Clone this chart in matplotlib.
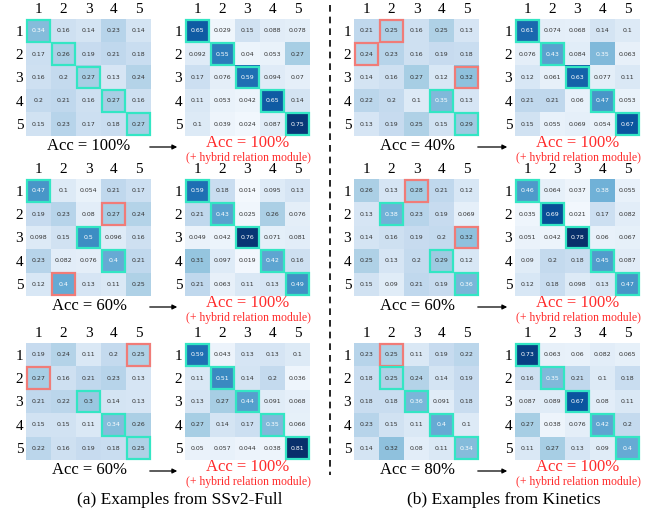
import matplotlib
matplotlib.use("Agg")
import matplotlib.pyplot as plt
import numpy as np
from matplotlib.patches import Rectangle, FancyArrowPatch

plt.rcParams['font.family'] = ['Liberation Serif', 'DejaVu Serif']

labels = ['1', '2', '3', '4', '5']

# SSv2-Full examples (before / after hybrid relation module)
ssv2_a_before = [[0.34, 0.16, 0.14, 0.23, 0.14],
                 [0.17, 0.26, 0.19, 0.21, 0.18],
                 [0.16, 0.2, 0.27, 0.13, 0.24],
                 [0.2, 0.21, 0.16, 0.27, 0.16],
                 [0.15, 0.23, 0.17, 0.18, 0.27]]
ssv2_a_after = [[0.65, 0.029, 0.15, 0.088, 0.078],
                [0.092, 0.55, 0.04, 0.053, 0.27],
                [0.17, 0.076, 0.59, 0.094, 0.07],
                [0.11, 0.053, 0.042, 0.65, 0.14],
                [0.1, 0.039, 0.024, 0.087, 0.75]]
ssv2_b_before = [[0.47, 0.1, 0.054, 0.21, 0.17],
                 [0.19, 0.23, 0.08, 0.27, 0.24],
                 [0.098, 0.15, 0.5, 0.096, 0.16],
                 [0.23, 0.082, 0.076, 0.4, 0.21],
                 [0.12, 0.4, 0.13, 0.11, 0.25]]
ssv2_b_after = [[0.59, 0.18, 0.014, 0.095, 0.13],
                [0.21, 0.43, 0.025, 0.26, 0.076],
                [0.049, 0.042, 0.76, 0.071, 0.081],
                [0.31, 0.097, 0.019, 0.42, 0.16],
                [0.21, 0.063, 0.11, 0.13, 0.49]]
ssv2_c_before = [[0.19, 0.24, 0.11, 0.2, 0.25],
                 [0.27, 0.16, 0.21, 0.23, 0.13],
                 [0.21, 0.22, 0.3, 0.14, 0.13],
                 [0.15, 0.15, 0.11, 0.34, 0.26],
                 [0.22, 0.16, 0.19, 0.18, 0.25]]
ssv2_c_after = [[0.59, 0.043, 0.13, 0.13, 0.1],
                [0.11, 0.51, 0.14, 0.2, 0.036],
                [0.13, 0.27, 0.44, 0.091, 0.068],
                [0.27, 0.14, 0.17, 0.35, 0.066],
                [0.05, 0.057, 0.044, 0.038, 0.81]]

# Kinetics examples
kin_a_before = [[0.21, 0.25, 0.16, 0.25, 0.13],
                [0.24, 0.23, 0.16, 0.19, 0.18],
                [0.14, 0.16, 0.27, 0.12, 0.32],
                [0.22, 0.2, 0.1, 0.35, 0.13],
                [0.13, 0.19, 0.25, 0.15, 0.29]]
kin_a_after = [[0.61, 0.074, 0.068, 0.14, 0.1],
               [0.076, 0.43, 0.084, 0.35, 0.063],
               [0.12, 0.061, 0.63, 0.077, 0.11],
               [0.21, 0.21, 0.06, 0.47, 0.053],
               [0.15, 0.055, 0.069, 0.054, 0.67]]
kin_b_before = [[0.26, 0.13, 0.28, 0.21, 0.12],
                [0.13, 0.38, 0.23, 0.19, 0.069],
                [0.14, 0.16, 0.19, 0.2, 0.32],
                [0.25, 0.13, 0.2, 0.29, 0.12],
                [0.15, 0.09, 0.21, 0.19, 0.36]]
kin_b_after = [[0.46, 0.064, 0.037, 0.38, 0.055],
               [0.035, 0.69, 0.021, 0.17, 0.082],
               [0.051, 0.042, 0.78, 0.06, 0.067],
               [0.09, 0.2, 0.18, 0.45, 0.087],
               [0.12, 0.18, 0.098, 0.13, 0.47]]
kin_c_before = [[0.23, 0.25, 0.11, 0.19, 0.22],
                [0.18, 0.25, 0.24, 0.14, 0.19],
                [0.18, 0.18, 0.36, 0.091, 0.18],
                [0.23, 0.15, 0.11, 0.4, 0.1],
                [0.14, 0.32, 0.08, 0.11, 0.34]]
kin_c_after = [[0.73, 0.063, 0.06, 0.082, 0.065],
               [0.16, 0.35, 0.21, 0.1, 0.18],
               [0.087, 0.089, 0.67, 0.08, 0.11],
               [0.27, 0.038, 0.076, 0.42, 0.2],
               [0.11, 0.27, 0.13, 0.09, 0.4]]

acc_ssv2 = ['Acc = 100%', 'Acc = 60%', 'Acc = 60%']
acc_kin = ['Acc = 40%', 'Acc = 60%', 'Acc = 80%']

W, H = 651, 513
fig = plt.figure(figsize=(W / 100, H / 100), dpi=100)

CYAN = '#33e6c4'
RED = '#f07c78'


def px_ax(x, y, w, h):
    return fig.add_axes([x / W, 1 - (y + h) / H, w / W, h / H])


def heat(x, y, data):
    ax = px_ax(x, y, 125, 117)
    m = np.array(data)
    ax.imshow(m, cmap='Blues', vmin=0, vmax=0.78, aspect='auto')
    for i in range(5):
        for j in range(5):
            v = m[i, j]
            ax.text(j, i, f'{v:g}', ha='center', va='center', fontsize=4.5,
                    family='DejaVu Sans',
                    color='white' if v > 0.33 else '#333333')
    # box each row's prediction: cyan if correct, red if wrong
    for i in range(5):
        j = int(np.argmax(m[i]))
        col = CYAN if j == i else RED
        ax.add_patch(Rectangle((j - 0.47, i - 0.47), 0.94, 0.94, fill=False,
                               edgecolor=col, lw=1.6, clip_on=False, zorder=3))
    ax.set_xticks(range(5))
    ax.set_xticklabels(labels, fontsize=11)
    ax.set_yticks(range(5))
    ax.set_yticklabels(labels, fontsize=11)
    ax.xaxis.tick_top()
    ax.tick_params(length=0, pad=2)
    for s in ax.spines.values():
        s.set_visible(False)
    return ax


def ftext(x, y, s, **kw):
    fig.text(x / W, 1 - y / H, s, ha='center', va='center', **kw)


def arrow(x0, x1, y):
    a = FancyArrowPatch((x0 / W, 1 - y / H), (x1 / W, 1 - y / H),
                        transform=fig.transFigure, arrowstyle='-|>',
                        mutation_scale=7, lw=0.9, color='black')
    fig.add_artist(a)


rows_y = [19, 179, 343]
ssv2 = [(ssv2_a_before, ssv2_a_after), (ssv2_b_before, ssv2_b_after),
        (ssv2_c_before, ssv2_c_after)]
kin = [(kin_a_before, kin_a_after), (kin_b_before, kin_b_after),
       (kin_c_before, kin_c_after)]

for r, y in enumerate(rows_y):
    for (x0, x1, pair, acc) in [(26, 185, ssv2[r], acc_ssv2[r]),
                                (354, 515, kin[r], acc_kin[r])]:
        heat(x0, y, pair[0])
        heat(x1, y, pair[1])
        bot = y + 117
        ftext(x0 + 63, bot + 10, acc, fontsize=12, color='black')
        ftext(x1 + 63, bot + 7, 'Acc = 100%', fontsize=12, color='#ff2a2a')
        ftext(x1 + 63, bot + 22, '(+ hybrid relation module)', fontsize=8.5,
              color='#ff2a2a')
        arrow(x0 + 121, x1 - 5, bot + 11)

# dashed separator
fig.add_artist(plt.Line2D([330 / W, 330 / W], [1 - 5 / H, 1 - 475 / H],
                          transform=fig.transFigure, color='black',
                          lw=1.2, ls=(0, (4, 3))))

ftext(180, 500, '(a) Examples from SSv2-Full', fontsize=12.5)
ftext(504, 500, '(b) Examples from Kinetics', fontsize=12.5)

fig.savefig('out.png', dpi=100)
